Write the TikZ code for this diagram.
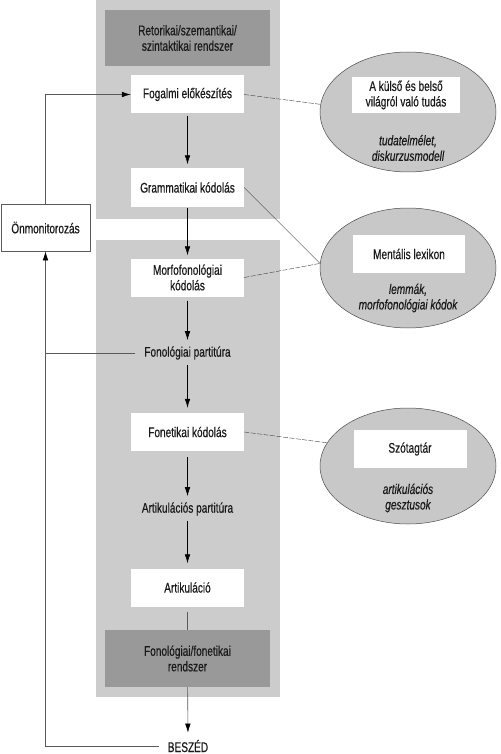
\documentclass[tikz,border=0pt]{standalone}
\usepackage{fontspec}
\setmainfont{Liberation Sans}[FakeStretch=0.72,FakeBold=0.4]
\usetikzlibrary{arrows.meta,shapes.geometric}
\definecolor{lgray}{RGB}{204,204,204}
\definecolor{dgray}{RGB}{153,153,153}
\definecolor{egray}{RGB}{200,200,200}
\definecolor{fbgray}{RGB}{90,90,90}
\begin{document}
\begin{tikzpicture}[x=1pt,y=-1pt,
  every node/.style={font=\fontsize{14}{15.5}\selectfont, text=black!90, align=center, inner sep=0pt},
  wbox/.style={fill=white, minimum width=113pt, minimum height=38pt},
  dbox/.style={fill=dgray, minimum width=165pt, minimum height=56pt},
  lbl/.style={inner xsep=9pt, inner ysep=4pt},
  arr/.style={-{Latex[length=9pt,width=5.5pt]}, draw=black, line width=0.6pt},
  garr/.style={-{Latex[length=9pt,width=5.5pt,color=black]}, draw=fbgray, line width=0.6pt},
  fb/.style={draw=fbgray, line width=0.6pt},
  link/.style={draw=black!75, line width=0.4pt, dash pattern=on 5pt off 1.5pt},
  slink/.style={draw=black!75, line width=0.4pt},
  ell/.style={ellipse, draw=black!70, line width=0.5pt, fill=egray, minimum width=176pt, minimum height=120pt}]
\useasboundingbox (0,0) rectangle (500,754);
\fill[white] (0,0) rectangle (500,754);
% panels
\fill[lgray] (96,0) rectangle (280,219);
\fill[lgray] (96,240) rectangle (280,697);
% main column
\node[dbox] (retor) at (187.5,38) {Retorikai/szemantikai/\\szintaktikai rendszer};
\node[wbox] (fogalmi) at (187.5,94.5) {Fogalmi előkészítés};
\node[wbox] (gramm) at (187.5,187.5) {Grammatikai kódolás};
\node[wbox] (morfo) at (187.5,277.5) {Morfofonológiai\\kódolás};
\node[lbl] (fonpart) at (187.5,353) {Fonológiai partitúra};
\node[wbox] (fonet) at (187.5,432) {Fonetikai kódolás};
\node[lbl] (artpart) at (187.5,509) {Artikulációs partitúra};
\node[wbox] (artik) at (187.5,587.5) {Artikuláció};
\node[dbox, minimum height=57pt] (fonfon) at (187.5,658.5) {Fonológiai/fonetikai\\rendszer};
\node[lbl, inner ysep=3pt] (beszed) at (188,746) {BESZÉD};
% self-monitoring
\node[draw=fbgray, line width=0.6pt, fill=white, minimum width=89pt, minimum height=47pt] (onmon) at (45.5,227.5) {Önmonitorozás};
% ellipses
\node[ell] (e1) at (408,112) {};
\node[fill=white, minimum width=108pt, minimum height=36pt] (e1box) at (406,95) {A külső és belső\\világról való tudás};
\node (e1txt) at (408,148) {\itshape tudatelmélet,\\\itshape diskurzusmodell};
\node[ell] (e2) at (408,268) {};
\node[fill=white, minimum width=112pt, minimum height=38pt] (e2box) at (409,254) {Mentális lexikon};
\node (e2txt) at (408,298) {\itshape lemmák,\\\itshape morfofonológiai kódok};
\node[ell, minimum height=116pt] (e3) at (408,466) {};
\node[fill=white, minimum width=113pt, minimum height=38pt] (e3box) at (410,449) {Szótagtár};
\node (e3txt) at (408,498) {\itshape artikulációs\\\itshape gesztusok};
% main arrows
\draw[arr, shorten <=2pt, shorten >=4pt] (fogalmi) -- (gramm);
\draw[arr, shorten <=1pt, shorten >=3pt] (gramm) -- (morfo);
\draw[arr, shorten <=4pt, shorten >=2pt] (morfo) -- (fonpart);
\draw[arr, shorten <=1pt, shorten >=5pt] (fonpart) -- (fonet);
\draw[arr, shorten <=6pt, shorten >=2pt] (fonet) -- (artpart);
\draw[arr, shorten <=1pt, shorten >=5pt] (artpart) -- (artik);
\draw[fb, shorten <=5pt] (artik) -- (fonfon);
\draw[garr, shorten >=4pt] (fonfon) -- (beszed);
% feedback
\draw[garr] (onmon.north) |- (fogalmi.west);
\draw[garr] (beszed.west) -| (onmon.south);
\draw[fb] (fonpart.west) -- (onmon.center |- fonpart.west);
% links
\draw[link] (fogalmi.east) -- (e1.175);
\draw[slink] (gramm.east) -- (e2.177);
\draw[link] (morfo.east) -- (e2.177);
\draw[link] (fonet.east) -- (e3.164);
\end{tikzpicture}
\end{document}
